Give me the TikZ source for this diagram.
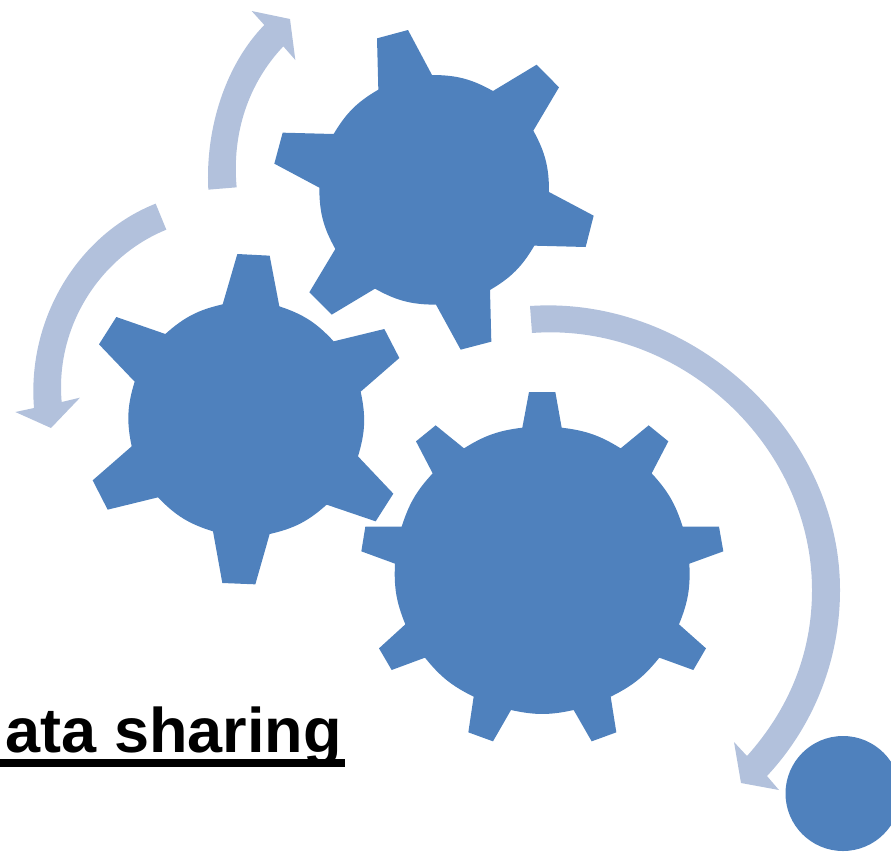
\documentclass[tikz,border=0pt]{standalone}
\usepackage{fontspec}
\setmainfont{Liberation Sans}
\definecolor{gearblue}{HTML}{4F81BD}
\definecolor{arrowblue}{HTML}{B2C1DC}
\tikzset{gearfill/.style={fill=gearblue,draw=none},arrowfill/.style={fill=arrowblue,draw=none},
  rimone/.style={bend left=14.5},rimtwo/.style={bend left=12.5}}
\begin{document}
\begin{tikzpicture}[x=1pt,y=-1pt]
\useasboundingbox (0,0) rectangle (891,852);
\clip (0,0) rectangle (891,852);
% arrows
\begin{scope}[scale=1/3]
\fill[arrowfill] (625,569) .. controls (615,380) and (680,190) .. (793,75) -- (755,33) -- (870,57) -- (886,180) -- (850,139) .. controls (745,250) and (695,400) .. (710,562) -- cycle;
\fill[arrowfill] (467,611) .. controls (240,700) and (80,950) .. (102,1224) -- (46,1236) -- (153,1284) -- (240,1193) -- (185,1206) .. controls (165,980) and (300,770) .. (499,689) -- cycle;
\end{scope}
\fill[arrowfill] (530,306) .. controls (690,295) and (840,430) .. (840,590) .. controls (840,665) and (810,730) .. (767,776) -- (779,790) -- (741,783) -- (734,742) -- (747,756) .. controls (788,710) and (812,655) .. (812,590) .. controls (812,445) and (680,322) .. (532,333) -- cycle;
% gear 1
\begin{scope}[shift={(260,20)},scale=1/3]
\fill[gearfill] (351,55) -- (444,30) -- (516,165) to[rimone] (699,213) -- (830,134) -- (897,202) -- (820,332) to[rimone] (867,516) -- (1001,587) -- (977,681) -- (823,677) to[rimone] (690,810) -- (694,965) -- (602,989) -- (528,854) to[rimone] (345,806) -- (215,884) -- (148,817) -- (226,687) to[rimone] (178,503) -- (43,431) -- (68,338) -- (221,342) to[rimone] (355,209) -- cycle;
\end{scope}
% gear 2
\begin{scope}[shift={(85,245)},scale=1/3]
\fill[gearfill] (457,27) -- (554,32) -- (583,184) to[rimone] (746,289) -- (898,252) -- (943,339) -- (827,440) to[rimone] (819,634) -- (925,746) -- (872,829) -- (725,779) to[rimone] (554,867) -- (511,1018) -- (412,1014) -- (384,859) to[rimone] (219,757) -- (68,794) -- (23,706) -- (140,604) to[rimone] (149,410) -- (42,298) -- (94,216) -- (241,267) to[rimone] (413,178) -- cycle;
\end{scope}
% gear 3
\begin{scope}[shift={(350,380)},scale=1/3]
\fill[gearfill] (517,143) -- (537,36) -- (616,36) -- (635,143) to[rimtwo] (812,205) -- (896,136) -- (955,184) -- (905,280) to[rimtwo] (998,440) -- (1107,440) -- (1120,514) -- (1018,551) to[rimtwo] (987,733) -- (1068,805) -- (1030,870) -- (928,833) to[rimtwo] (782,950) -- (799,1057) -- (725,1084) -- (671,990) to[rimtwo] (483,990) -- (429,1084) -- (355,1057) -- (371,950) to[rimtwo] (225,833) -- (125,870) -- (87,805) -- (166,733) to[rimtwo] (135,551) -- (34,514) -- (46,440) -- (155,440) to[rimtwo] (248,280) -- (198,184) -- (257,136) -- (342,205) to[rimtwo] cycle;
\end{scope}
% circle
\fill[gearfill] (843,793.5) circle (57.5);
% text
\node[anchor=base west,inner sep=0pt,font=\bfseries\fontsize{63}{70}\selectfont,text=black] (label) at (5.5,752.5) {ata sharing};
\fill[black] (0,759) rectangle (345,767);
\end{tikzpicture}
\end{document}
